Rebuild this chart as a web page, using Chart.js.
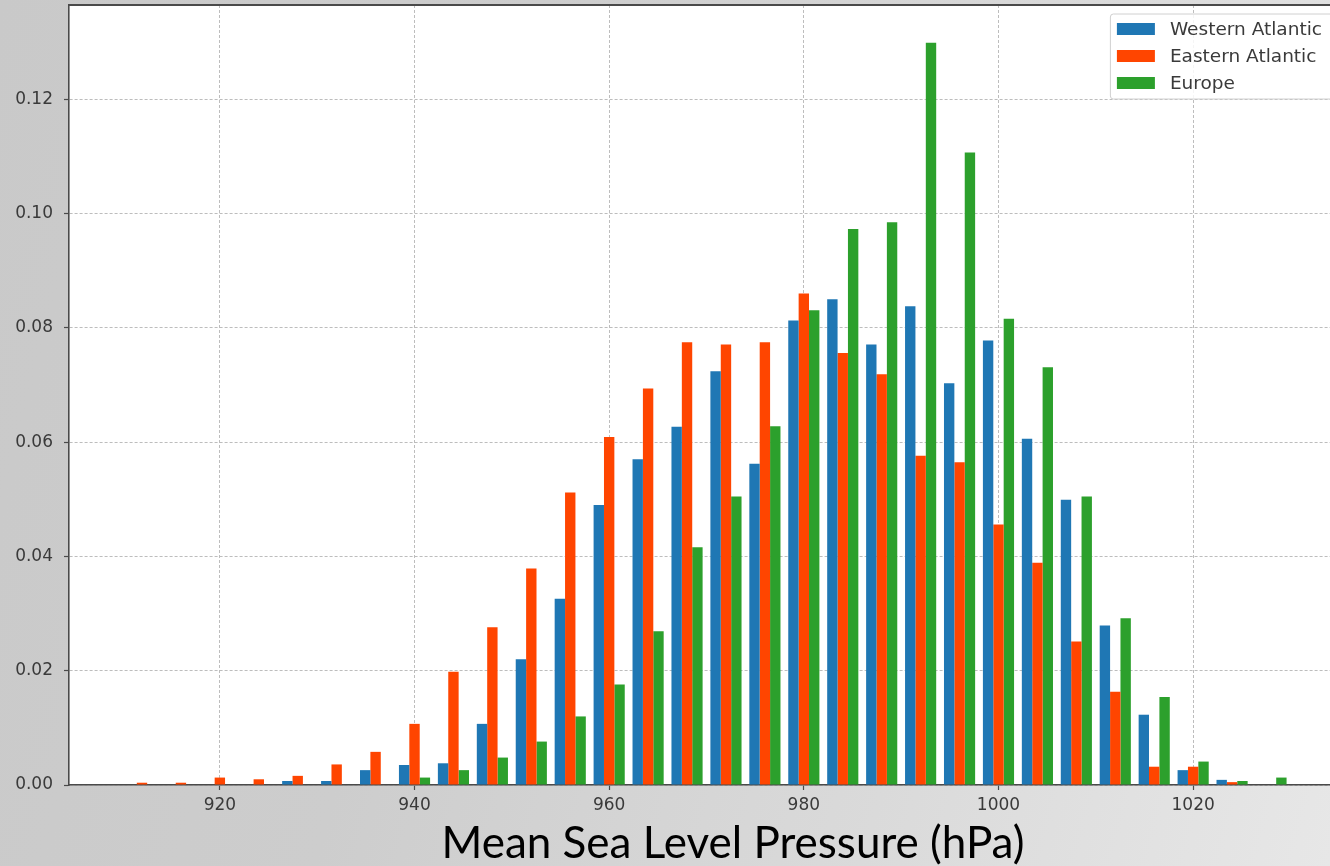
<!DOCTYPE html>
<html>
<head>
<meta charset="utf-8">
<script src="https://cdn.jsdelivr.net/npm/chart.js@4.4.0/dist/chart.umd.min.js"></script>
<style>
    html, body { margin: 0; padding: 0; width: 1330px; height: 866px; overflow: hidden; }
    body { background: linear-gradient(105deg, #c9c9c9 0%, #cdcdcd 35%, #dadada 70%, #e7e7e7 100%); }
    #wrap { position: absolute; left: 0; top: 0; width: 1344px; height: 866px; }
</style>
</head>
<body>
<div id="wrap"><canvas id="pressureChart"></canvas></div>
<script>
'use strict';

// ============================================================================
// Data (histogram bin centres, density per region)
// ============================================================================

const binCenters = [912, 916, 920, 924, 928, 932, 936, 940, 944, 948,
                    952, 956, 960, 964, 968, 972, 976, 980, 984, 988,
                    992, 996, 1000, 1004, 1008, 1012, 1016, 1020, 1024, 1028];

const westernAtlantic = [0, 0, 0, 0, 0.0007, 0.0007, 0.0026, 0.0035, 0.0038, 0.0107,
                         0.0220, 0.0326, 0.0490, 0.0570, 0.0627, 0.0724, 0.0562, 0.0813, 0.0850, 0.0771,
                         0.0838, 0.0703, 0.0778, 0.0606, 0.0499, 0.0279, 0.0123, 0.0026, 0.0009, 0];

const easternAtlantic = [0.0004, 0.0004, 0.0013, 0.0010, 0.0016, 0.0036, 0.0058, 0.0107, 0.0198, 0.0276,
                         0.0379, 0.0512, 0.0609, 0.0694, 0.0775, 0.0771, 0.0775, 0.0860, 0.0756, 0.0719,
                         0.0576, 0.0565, 0.0456, 0.0389, 0.0251, 0.0163, 0.0032, 0.0032, 0.0005, 0];

const europe = [0, 0, 0, 0, 0, 0, 0, 0.0013, 0.0026, 0.0048,
                0.0076, 0.0120, 0.0176, 0.0269, 0.0416, 0.0505, 0.0628, 0.0831, 0.0973, 0.0985,
                0.1299, 0.1107, 0.0816, 0.0731, 0.0505, 0.0292, 0.0154, 0.0041, 0.0007, 0.0013];

const seriesNames = ['Western Atlantic', 'Eastern Atlantic', 'Europe'];
const xTicks = [920, 940, 960, 980, 1000, 1020];
const yTicks = [0, 0.02, 0.04, 0.06, 0.08, 0.10, 0.12];
const xTitle = 'Mean Sea Level Pressure (hPa)';

// ============================================================================
// Colors
// ============================================================================

const colors = {
    blue: '#1f77b4',
    orange: '#ff4500',
    green: '#2ca02c',
    grid: '#bdbdbd',
    axis: '#4a4a4a',
    text: '#3a3a3a'
};

// ============================================================================
// Plugins
// ============================================================================

// white plot face + top spine
const plotFace = {
    id: 'plotFace',
    beforeDraw(chart) {
        const { ctx, chartArea: a } = chart;
        ctx.save();
        ctx.fillStyle = '#ffffff';
        ctx.fillRect(a.left, a.top, a.right - a.left, a.bottom - a.top);
        ctx.restore();
    },
    afterDraw(chart) {
        const { ctx, chartArea: a } = chart;
        ctx.save();
        ctx.strokeStyle = colors.axis;
        ctx.lineWidth = 2;
        ctx.beginPath();
        ctx.moveTo(a.left, a.top);
        ctx.lineTo(a.right, a.top);
        ctx.stroke();
        ctx.restore();
    }
};

// matplotlib-like legend in the upper right corner
const boxLegend = {
    id: 'boxLegend',
    afterDraw(chart) {
        const { ctx, chartArea: a } = chart;
        ctx.save();
        ctx.font = '18.5px "DejaVu Sans"';
        const textW = Math.max(...chart.data.datasets.map(d => ctx.measureText(d.label).width));
        const padL = 6.5, patchW = 38, patchH = 12, gap = 15, padR = 14, rowH = 27;
        const right = a.right - 8;
        const top = a.top + 9;
        const w = padL + patchW + gap + textW + padR;
        const h = rowH * chart.data.datasets.length + 4;
        const left = right - w;

        ctx.beginPath();
        ctx.roundRect(left, top, w, h, 3);
        ctx.fillStyle = 'rgba(255,255,255,0.85)';
        ctx.fill();
        ctx.strokeStyle = '#d0d0d0';
        ctx.lineWidth = 1;
        ctx.stroke();

        ctx.textBaseline = 'middle';
        chart.data.datasets.forEach((d, i) => {
            const cy = top + 15 + i * rowH;
            ctx.fillStyle = d.backgroundColor;
            ctx.fillRect(left + padL, cy - patchH / 2, patchW, patchH);
            ctx.fillStyle = colors.text;
            ctx.fillText(d.label, left + padL + patchW + gap, cy + 1);
        });
        ctx.restore();
    }
};

// slide caption below the axis
const slideCaption = {
    id: 'slideCaption',
    afterDraw(chart) {
        const { ctx } = chart;
        ctx.save();
        ctx.font = '44px Lato';
        ctx.fillStyle = '#000000';
        ctx.textAlign = 'center';
        ctx.textBaseline = 'alphabetic';
        ctx.fillText(xTitle, 733, 858);
        ctx.restore();
    }
};

// ============================================================================
// Chart
// ============================================================================

const gridOpts = {
    color: colors.grid,
    lineWidth: 1,
    offset: false,
    tickColor: colors.axis,
    tickLength: 5,
    tickWidth: 1.2,
    tickBorderDash: [100, 0]
};

const tickFont = { family: 'DejaVu Sans', size: 17 };

new Chart(document.getElementById('pressureChart'), {
    type: 'bar',
    data: {
        labels: binCenters,
        datasets: [
            { label: seriesNames[0], data: westernAtlantic, backgroundColor: colors.blue },
            { label: seriesNames[1], data: easternAtlantic, backgroundColor: colors.orange },
            { label: seriesNames[2], data: europe, backgroundColor: colors.green }
        ]
    },
    options: {
        responsive: true,
        maintainAspectRatio: false,
        animation: false,
        layout: { padding: { top: 5, left: 0, right: 0, bottom: 0 } },
        datasets: {
            bar: {
                categoryPercentage: 0.8,
                barPercentage: 1.0,
                borderWidth: 0
            }
        },
        plugins: {
            legend: { display: false },
            tooltip: { enabled: false }
        },
        scales: {
            x: {
                type: 'linear',
                min: 904.5,
                max: 1035.5,
                offset: false,
                border: { color: colors.axis, width: 1.6, dash: [3, 2] },
                grid: gridOpts,
                ticks: {
                    color: colors.text,
                    font: tickFont,
                    padding: 5,
                    maxRotation: 0,
                    includeBounds: false,
                    callback: v => String(v)
                },
                afterBuildTicks: axis => { axis.ticks = xTicks.map(v => ({ value: v })); },
                afterFit: axis => {
                    axis.height = 81;
                    axis.paddingLeft = 0;
                    axis.paddingRight = 0;
                }
            },
            y: {
                min: 0,
                max: 0.1365,
                border: { color: colors.axis, width: 1.6, dash: [3, 2] },
                grid: gridOpts,
                ticks: {
                    color: colors.text,
                    font: tickFont,
                    padding: 11,
                    includeBounds: false,
                    callback: v => v.toFixed(2)
                },
                afterBuildTicks: axis => { axis.ticks = yTicks.map(v => ({ value: v })); },
                afterFit: axis => {
                    axis.width = 69;
                    axis.paddingTop = 0;
                    axis.paddingBottom = 0;
                }
            }
        }
    },
    plugins: [plotFace, boxLegend, slideCaption]
});
</script>
</body>
</html>
